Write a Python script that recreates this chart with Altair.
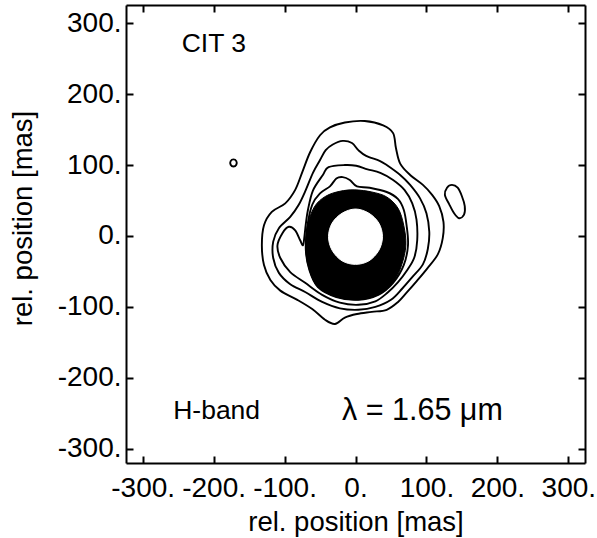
import altair as alt
import pandas as pd

FONT = "Liberation Sans"

# ---------------- contour lines (rel. position in mas) ----------------
c1_x = [-36, -50, -64, -75, -85, -99, -118, -129, -132, -129, -120, -106, -82, -61, -43, -29, -15, 2, 23, 44,
        60, 72, 86, 101, 116, 123, 124, 118, 108, 95, 77, 63, 57, 53, 39, 13, -15]
c1_y = [153, 142, 118, 90, 65, 46, 34, 15, -13, -41, -62, -77, -90, -103, -118, -124, -115, -110, -107, -104,
        -93, -80, -64, -46, -26, -3, 20, 42, 58, 72, 86, 102, 124, 145, 156, 162, 160]

c2_x = [-32, -18, -5, 4, 15, 34, 44, 63, 77, 91, 100, 104, 102, 95, 80, 66, 50, 28, 4, -22,
        -47, -71, -92, -108, -116, -116, -108, -92, -80, -70, -60, -50, -42]
c2_y = [129, 134, 131, 121, 113, 106, 100, 86, 72, 53, 32, 6, -18, -40, -58, -74, -90, -100, -104, -102,
        -93, -79, -68, -52, -31, -8, 11, 27, 44, 65, 89, 107, 121]

c3_x = [-38, -15, 1, 17, 35, 53, 69, 80, 86, 87, 83, 73, 60, 45, 28, 4, -22, -47, -71, -92,
        -106, -110, -103, -94, -85, -78, -74, -72, -70, -67, -60, -46]
c3_y = [97, 100, 99, 94, 89, 79, 65, 46, 23, -6, -30, -48, -65, -80, -92, -97, -94, -83, -66, -51,
        -31, -13, 4, 13, 8, -6, -13, -1, 17, 37, 64, 86]

c4_x = [-61, -50, -36, -27, -18, -8, 2, 20, 44, 60, 68, 72, 74, 68, 53, 32, 4, -27, -53, -65, -70, -68]
c4_y = [44, 60, 70, 81, 83, 79, 70, 68, 62, 52, 37, 15, -13, -41, -66, -83, -90, -86, -72, -48, -20, 13]

dot_x = [-172, -168, -168, -172, -176, -176]
dot_y = [108, 105.5, 100.5, 98, 100.5, 105.5]

blob_x = [129, 136, 144, 150, 154, 153, 146, 139, 132, 126]
blob_y = [68, 72, 68, 56, 42, 30, 25, 32, 45, 58]

# ---------------- saturated core (filled ring) ----------------
ring_x = [-1, 23, 44, 60, 68, 71, 65, 53, 32, 4, -27, -53, -65, -70, -68, -58, -42, -22]
ring_y = [65, 62, 55, 39, 15, -13, -41, -66, -83, -90, -86, -72, -48, -20, 13, 41, 56, 63]

hole_x = [0, 19, 33, 38, 33, 19, 0, -19, -33, -38, -33, -19]
hole_y = [38, 32, 18, -1, -20, -35, -40, -35, -20, -1, 18, 32]

# ---------------- annotations ----------------
note_text = ["CIT 3", "H-band"]
note_x = [-245, -257]
note_y = [260, -258]
lam_text = ["λ = 1.65 μm"]
lam_x = [-19]
lam_y = [-259]

tick_values = [-300, -200, -100, 0, 100, 200, 300]
x_domain = [-323.5, 323.5]
y_domain = [-320, 325.6]


def table(pairs):
    rows = []
    for name, xs, ys in pairs:
        for i, (x, y) in enumerate(zip(xs, ys)):
            rows.append({"id": name, "x": x, "y": y, "k": i})
    return pd.DataFrame(rows)


lines_df = table([("c1", c1_x, c1_y), ("c2", c2_x, c2_y), ("c3", c3_x, c3_y),
                  ("c4", c4_x, c4_y), ("dot", dot_x, dot_y), ("blob", blob_x, blob_y)])
ring_df = table([("ring", ring_x, ring_y)])
hole_df = table([("hole", hole_x, hole_y)])
note_df = pd.DataFrame({"x": note_x, "y": note_y, "t": note_text})
lam_df = pd.DataFrame({"x": lam_x, "y": lam_y, "t": lam_text})

xscale = alt.Scale(domain=x_domain, nice=False, zero=False)
yscale = alt.Scale(domain=y_domain, nice=False, zero=False)

common = dict(
    values=tick_values, grid=False, labelFont=FONT, labelFontSize=28, labelColor="black",
    tickColor="black", tickWidth=2, tickSize=alt.ExprRef(expr="-7"),
    domainColor="black", domainWidth=2, labelOverlap=False, labelFlush=False,
    titleFont=FONT, titleFontSize=27.5, titleFontWeight="normal", titleColor="black",
)
x_bottom = alt.Axis(orient="bottom", labelExpr="datum.value + '.'", labelPadding=18,
                    titlePadding=6, **common)
y_left = alt.Axis(orient="left", labelExpr="datum.value + '.'", labelPadding=12,
                  titlePadding=20, titleY=213, **common)
x_top = alt.Axis(orient="top", labels=False, **common)
y_right = alt.Axis(orient="right", labels=False, **common)

lines = alt.Chart(lines_df).mark_line(
    interpolate="cardinal-closed", color="black", strokeWidth=1.9
).encode(
    x=alt.X("x:Q", scale=xscale, axis=x_bottom, title="rel. position [mas]"),
    y=alt.Y("y:Q", scale=yscale, axis=y_left, title="rel. position [mas]"),
    detail="id:N",
    order="k:Q",
)

ring = alt.Chart(ring_df).mark_line(
    interpolate="cardinal-closed", fill="black", stroke="black", strokeWidth=1
).encode(
    x=alt.X("x:Q", scale=xscale, axis=None),
    y=alt.Y("y:Q", scale=yscale, axis=None),
    order="k:Q",
)

hole = alt.Chart(hole_df).mark_line(
    interpolate="cardinal-closed", fill="white", stroke="white", strokeWidth=1
).encode(
    x=alt.X("x:Q", scale=xscale, axis=None),
    y=alt.Y("y:Q", scale=yscale, axis=None),
    order="k:Q",
)

notes = alt.Chart(note_df).mark_text(
    align="left", baseline="alphabetic", font=FONT, fontSize=26.5, color="black"
).encode(
    x=alt.X("x:Q", scale=xscale, axis=x_top, title=None),
    y=alt.Y("y:Q", scale=yscale, axis=y_right, title=None),
    text="t:N",
)

lam = alt.Chart(lam_df).mark_text(
    align="left", baseline="alphabetic", font=FONT, fontSize=30.5, color="black"
).encode(
    x=alt.X("x:Q", scale=xscale, axis=None),
    y=alt.Y("y:Q", scale=yscale, axis=None),
    text="t:N",
)

chart = alt.layer(lines, ring, hole, notes, lam).resolve_axis(
    x="independent", y="independent"
).properties(
    width=459, height=458,
    autosize=alt.AutoSizeParams(type="none"),
    padding={"left": 126, "top": 5, "right": 12, "bottom": 75},
    background="white",
).configure_view(stroke=None)

chart.save("out.html", embed_options={"renderer": "svg", "actions": False})
